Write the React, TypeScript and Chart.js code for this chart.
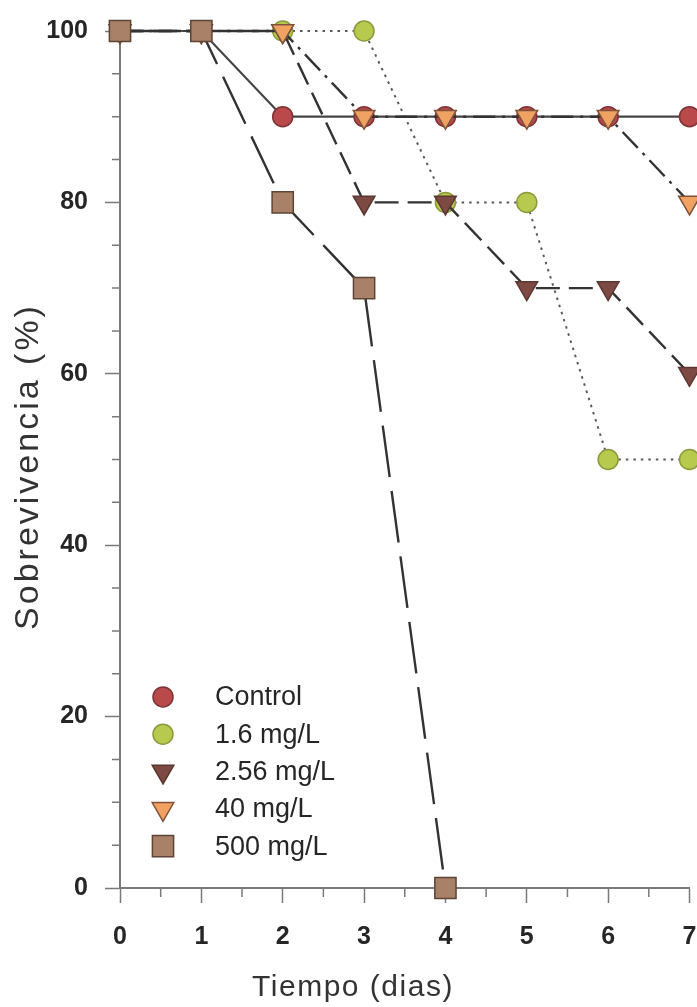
import React, { useEffect, useRef } from 'react';
import { Chart, registerables } from 'chart.js';

Chart.register(...registerables);

// ---- data ----
const days = [0, 1, 2, 3, 4, 5, 6, 7];
const seriesNames = ['Control', '1.6 mg/L', '2.56 mg/L', '40 mg/L', '500 mg/L'];
const controlValues = [100, 100, 90, 90, 90, 90, 90, 90];
const lowValues = [100, 100, 100, 100, 80, 80, 50, 50];
const midValues = [100, 100, 100, 80, 80, 70, 70, 60];
const highValues = [100, 100, 100, 90, 90, 90, 90, 80];
const maxValues = [100, 100, 80, 70, 0];
const yTickValues = [0, 20, 40, 60, 80, 100];
const xTickValues = [0, 1, 2, 3, 4, 5, 6, 7];
const xTitle = 'Tiempo (dias)';
const yTitle = 'Sobrevivencia (%)';

// ---- styles ----
const AXIS = '#7a7a7a';
const TEXT = '#262626';
const seriesValues = [controlValues, lowValues, midValues, highValues, maxValues];
const markerStyles = [
  { shape: 'circle', r: 10, fill: '#b9494b', stroke: '#7e3434', rot: 0 },
  { shape: 'circle', r: 10, fill: '#b7ca4e', stroke: '#8c9a3e', rot: 0 },
  { shape: 'triangle', r: 12.5, fill: '#7c4a42', stroke: '#5c3630', rot: 180 },
  { shape: 'triangle', r: 12.5, fill: '#f0a262', stroke: '#80523a', rot: 180 },
  { shape: 'rect', r: 15, fill: '#a88168', stroke: '#5e4434', rot: 0 },
];
const lineStyles = [
  { color: '#444444', dash: [] as number[], width: 2.2 },
  { color: '#5a5a5a', dash: [2.5, 5], width: 2 },
  { color: '#333333', dash: [24, 9], width: 2.4 },
  { color: '#333333', dash: [22, 7, 3, 7], width: 2.4 },
  { color: '#333333', dash: [52, 14], width: 2.4 },
];

function drawMarker(ctx: CanvasRenderingContext2D, m: any, x: number, y: number) {
  ctx.save();
  ctx.fillStyle = m.fill;
  ctx.strokeStyle = m.stroke;
  ctx.lineWidth = 1.5;
  ctx.setLineDash([]);
  ctx.beginPath();
  if (m.shape === 'circle') {
    ctx.arc(x, y, m.r, 0, Math.PI * 2);
  } else if (m.shape === 'rect') {
    const s = Math.SQRT1_2 * m.r;
    ctx.rect(x - s, y - s, 2 * s, 2 * s);
  } else {
    let rad = (m.rot * Math.PI) / 180;
    ctx.moveTo(x + Math.sin(rad) * m.r, y - Math.cos(rad) * m.r);
    rad += (2 * Math.PI) / 3;
    ctx.lineTo(x + Math.sin(rad) * m.r, y - Math.cos(rad) * m.r);
    rad += (2 * Math.PI) / 3;
    ctx.lineTo(x + Math.sin(rad) * m.r, y - Math.cos(rad) * m.r);
    ctx.closePath();
  }
  ctx.fill();
  ctx.stroke();
  ctx.restore();
}

const decorPlugin = {
  id: 'decor',
  afterDraw(chart: any) {
    const { ctx, chartArea } = chart;
    const xs = chart.scales.x;
    const ys = chart.scales.y;
    ctx.save();
    // minor ticks
    ctx.strokeStyle = AXIS;
    ctx.lineWidth = 1.5;
    ctx.beginPath();
    for (let v = 5; v < 100; v += 5) {
      if (v % 20 === 0) continue;
      const py = ys.getPixelForValue(v);
      ctx.moveTo(chartArea.left - 8, py);
      ctx.lineTo(chartArea.left, py);
    }
    for (let v = 0.5; v < 7; v += 1) {
      const px = xs.getPixelForValue(v);
      ctx.moveTo(px, chartArea.bottom);
      ctx.lineTo(px, chartArea.bottom + 9);
    }
    ctx.stroke();

    // axis titles
    ctx.fillStyle = '#333333';
    ctx.font = '30px "Liberation Sans", Arial, sans-serif';
    (ctx as any).letterSpacing = '1.5px';
    ctx.textAlign = 'center';
    ctx.textBaseline = 'middle';
    ctx.fillText(xTitle, chartArea.left + 233, chartArea.bottom + 100);
    ctx.save();
    ctx.translate(29, (chartArea.top + chartArea.bottom) / 2 + 7);
    ctx.rotate(-Math.PI / 2);
    ctx.font = '34px "Liberation Sans", Arial, sans-serif';
    (ctx as any).letterSpacing = '3px';
    ctx.fillText(yTitle, 0, 0);
    ctx.restore();
    (ctx as any).letterSpacing = '0px';

    // legend
    const lx = chartArea.left + 43;
    const tx = chartArea.left + 95;
    const y0 = ys.getPixelForValue(22.3);
    const step = 37.3;
    ctx.font = '27px "Liberation Sans", Arial, sans-serif';
    ctx.textAlign = 'left';
    ctx.textBaseline = 'middle';
    ctx.fillStyle = TEXT;
    seriesNames.forEach((name, i) => {
      const y = y0 + i * step;
      drawMarker(ctx, markerStyles[i], lx, y);
      ctx.fillStyle = TEXT;
      ctx.fillText(name, tx, y + 1);
    });
    ctx.restore();
  },
};

export default function App() {
  const ref = useRef<HTMLCanvasElement>(null);
  useEffect(() => {
    document.body.style.margin = '0';
    const canvas = ref.current!;
    const datasets = seriesNames.map((name, i) => {
      const m = markerStyles[i];
      const l = lineStyles[i];
      return {
        label: name,
        data: seriesValues[i].map((v, j) => ({ x: days[j], y: v })),
        borderColor: l.color,
        borderWidth: l.width,
        borderDash: l.dash,
        tension: 0,
        fill: false,
        pointStyle: m.shape,
        pointRadius: m.r,
        pointRotation: m.rot,
        pointBackgroundColor: m.fill,
        pointBorderColor: m.stroke,
        pointBorderWidth: 1.5,
        clip: false as any,
        order: seriesNames.length - i,
      };
    });
    const chart = new Chart(canvas, {
      type: 'line',
      data: { datasets },
      options: {
        responsive: false,
        animation: false,
        events: [],
        layout: { padding: { top: 31, right: 0, left: 0, bottom: 0 } },
        plugins: { legend: { display: false }, tooltip: { enabled: false }, title: { display: false } },
        scales: {
          x: {
            type: 'linear',
            min: 0,
            max: 7,
            afterFit: (s: any) => { s.height = 119; s.paddingRight = 0; s.paddingLeft = 0; },
            afterBuildTicks: (s: any) => { s.ticks = xTickValues.map((v) => ({ value: v })); },
            grid: { drawOnChartArea: false, drawTicks: true, tickLength: 15, tickColor: AXIS, tickWidth: 1.5 },
            border: { display: true, color: AXIS, width: 2 },
            ticks: {
              padding: 19,
              color: TEXT,
              font: { family: '"Liberation Sans", Arial, sans-serif', size: 25, weight: 'bold' },
              maxRotation: 0,
              autoSkip: false,
            },
          },
          y: {
            type: 'linear',
            min: 0,
            max: 100,
            afterFit: (s: any) => { s.width = 120; s.paddingTop = 0; s.paddingBottom = 0; },
            afterBuildTicks: (s: any) => { s.ticks = yTickValues.map((v) => ({ value: v })); },
            grid: { drawOnChartArea: false, drawTicks: true, tickLength: 15, tickColor: AXIS, tickWidth: 1.5 },
            border: { display: true, color: AXIS, width: 2 },
            ticks: {
              padding: 17,
              color: TEXT,
              font: { family: '"Liberation Sans", Arial, sans-serif', size: 25, weight: 'bold' },
              autoSkip: false,
            },
          },
        },
      },
      plugins: [decorPlugin],
    });
    return () => chart.destroy();
  }, []);
  return (
    <div style={{ width: 697, height: 1007, overflow: 'hidden' }}>
      <canvas ref={ref} width={706} height={1007} style={{ display: 'block' }} />
    </div>
  );
}
